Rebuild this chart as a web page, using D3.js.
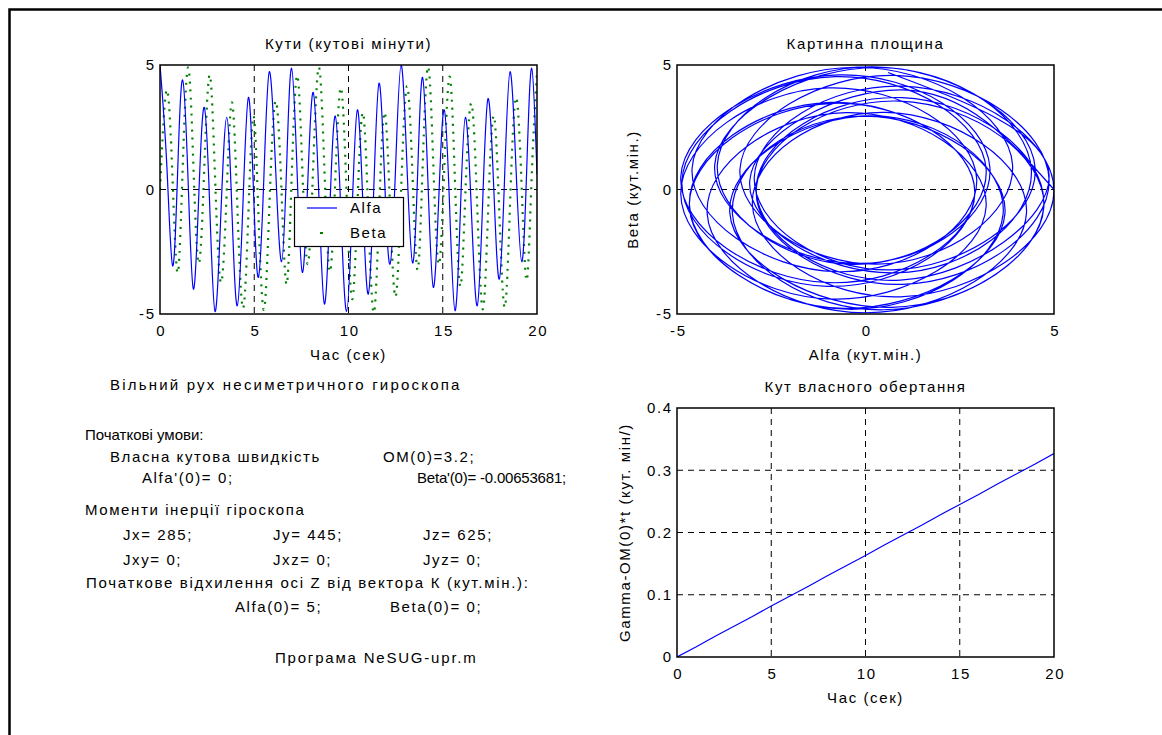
<!DOCTYPE html>
<meta charset="utf-8">
<html>

<head>
  <title>Вільний рух несиметричного гироскопа</title>
  <script src="https://d3js.org/d3.v7.min.js"></script>
  <style>
    body { margin: 0; background: #fff; }
    text { font-family: "Liberation Sans", Arial, sans-serif; font-size: 15px; fill: #000; letter-spacing: 1.6px; }
  </style>
</head>

<body>
  <div id="fig"></div>
</body>
<script>

  // time samples (sec): alternating extrema of Alfa and Beta
  var tSec = [0, 0.36, 0.67, 0.94, 1.2, 1.49, 1.77, 2.06, 2.35, 2.64, 2.92, 3.23, 3.54, 3.82, 4.1, 4.4, 4.69, 4.96,
    5.22, 5.51, 5.8, 6.13, 6.45, 6.72, 6.98, 7.27, 7.55, 7.84, 8.13, 8.43, 8.72, 9.01, 9.3, 9.6, 9.9, 10.19,
    10.47, 10.76, 11.05, 11.34, 11.62, 11.91, 12.2, 12.5, 12.79, 13.1, 13.4, 13.67, 13.93, 14.22, 14.5, 14.79,
    15.08, 15.37, 15.65, 15.93, 16.2, 16.52, 16.83, 17.12, 17.4, 17.7, 18.0, 18.29, 18.57, 18.88, 19.19, 19.46,
    19.72, 20];
  var alfa = [5.0, 1.0, -3.07, 0.8, 4.4, 0.37, -4.0, -0.19, 3.3, -0.7, -4.9, -0.98, 2.9, -0.93, -4.67, -0.58, 3.7, -0.05,
    -3.53, 0.48, 4.73, 0.9, -2.9, 0.99, 4.87, 0.78, -3.33, 0.31, 3.9, -0.28, -4.6, -0.76, 2.95, -0.99, -4.9, -0.9,
    3.2, -0.51, -4.2, 0.01, 4.27, 0.53, -3.0, 0.93, 5.0, 0.98, -2.95, 0.69, 4.5, 0.19, -3.93, -0.34,
    3.2, -0.81, -4.87, -1.0, 2.9, -0.87, -4.67, -0.46, 3.65, 0.17, -3.6, 0.68, 4.73, 0.97, -2.9, 0.93,
    4.87, 0.6];
  var beta = [0, 4.0, 0.36, -3.35, 0.78, 4.9, 0.99, -2.97, 0.89, 4.6, 0.5, -3.74, -0.1, 3.5, -0.61, -4.77, -0.95, 2.95,
    -0.98, -4.83, -0.71, 3.55, -0.13, -3.81, 0.38, 4.58, 0.82, -3.0, 1.0, 4.91, 0.85, -3.3, 0.41, 4.08, -0.17, -4.4,
    -0.68, 3.09, -0.97, -4.95, -0.95, 3.1, -0.63, -4.31, -0.06, 4.15, 0.5, -3.23, 0.86, 4.93, 0.99, -3.01,
    0.8, 4.53, 0.3, -3.89, -0.17, 3.46, -0.72, -4.81, -0.99, 2.96, -0.93, -4.73, -0.58, 3.69, 0.04, -3.64,
    0.56, 4.7];

  // own rotation angle Gamma-OM(0)*t
  var tGamma = [0, 1, 2, 3, 4, 5, 6, 7, 8, 9, 10, 11, 12, 13, 14, 15, 16, 17, 18, 19, 20];
  var gamma = [0, 0.016, 0.033, 0.049, 0.065, 0.082, 0.098, 0.114, 0.131, 0.147, 0.163, 0.18, 0.196, 0.212,
    0.229, 0.245, 0.261, 0.278, 0.294, 0.31, 0.327];

  var timeTicks = [0, 5, 10, 15, 20];
  var angleTicks = [-5, 0, 5];
  var gammaTicks = [0, 0.1, 0.2, 0.3, 0.4];

  var notes = [
    "Вільний рух несиметричного гироскопа",
    "Початкові умови:",
    "Власна кутова швидкість", "OM(0)=3.2;",
    "Alfa'(0)= 0;", "Beta'(0)= -0.00653681;",
    "Моменти інерції гіроскопа",
    "Jx= 285;", "Jy= 445;", "Jz= 625;",
    "Jxy= 0;", "Jxz= 0;", "Jyz= 0;",
    "Початкове відхилення осі Z від вектора К (кут.мін.):",
    "Alfa(0)= 5;", "Beta(0)= 0;",
    "Програма NeSUG-upr.m"
  ];
  // where each note line goes: x, baseline y, letter spacing
  var notePos = [
    [110, 390, 2.2], [85, 440, 0], [110, 462, 1.6], [383, 462, 1.6], [142, 483, 1.6], [417, 483, -0.2], [85, 515, 1.6],
    [123, 540, 1.6], [273, 540, 1.6], [423, 540, 1.6], [123, 565, 1.6], [273, 565, 1.6], [423, 565, 1.6],
    [86, 588, 1.7], [235, 612, 1.6], [390, 612, 1.6], [275, 663, 1.8]
  ];

  var W = 1162, H = 735;
  var svg = d3.select("#fig").append("svg").attr("width", W).attr("height", H);
  svg.append("rect").attr("width", W).attr("height", H).attr("fill", "#fff");
  svg.append("rect").attr("x", 9.5).attr("y", 9.5).attr("width", W + 20).attr("height", H + 20)
    .attr("fill", "none").attr("stroke", "#000").attr("stroke-width", 2.5);

  var dash = "6,5";
  var clipN = 0;

  function panel(b, xd, yd, xt, yt, xg, yg, title, xlab, ylab) {
    var x = d3.scaleLinear().domain(xd).range([b.l, b.r]);
    var y = d3.scaleLinear().domain(yd).range([b.b, b.t]);
    var g = svg.append("g");

    g.selectAll(null).data(xg).enter().append("line")
      .attr("x1", d => x(d)).attr("x2", d => x(d)).attr("y1", b.t).attr("y2", b.b)
      .attr("stroke", "#000").attr("stroke-dasharray", dash);
    g.selectAll(null).data(yg).enter().append("line")
      .attr("y1", d => y(d)).attr("y2", d => y(d)).attr("x1", b.l).attr("x2", b.r)
      .attr("stroke", "#000").attr("stroke-dasharray", dash);

    var ax = g.append("g").attr("transform", "translate(0," + b.b + ")")
      .call(d3.axisBottom(x).tickValues(xt).tickSize(0).tickPadding(11).tickFormat(d => String(d)));
    var ay = g.append("g").attr("transform", "translate(" + b.l + ",0)")
      .call(d3.axisLeft(y).tickValues(yt).tickSize(0).tickPadding(6).tickFormat(d => String(d)));
    ax.select(".domain").remove();
    ay.select(".domain").remove();
    // centre x labels despite the letter spacing
    ax.selectAll("text").attr("dx", "0.8px");
    ay.selectAll("text").attr("dx", "1.6px");

    g.append("text").attr("x", (b.l + b.r) / 2).attr("y", b.t - 16).attr("text-anchor", "middle").text(title);
    g.append("text").attr("x", (b.l + b.r) / 2).attr("y", b.b + 46).attr("text-anchor", "middle").text(xlab);
    if (ylab) {
      g.append("text").attr("transform", "translate(" + ylab[0] + "," + ((b.t + b.b) / 2) + ") rotate(-90)")
        .attr("text-anchor", "middle").attr("dy", "0.35em").text(ylab[1]);
    }

    var id = "clip" + (clipN++);
    svg.append("clipPath").attr("id", id).append("rect")
      .attr("x", b.l).attr("y", b.t).attr("width", b.r - b.l).attr("height", b.b - b.t);
    var plot = svg.append("g").attr("clip-path", "url(#" + id + ")");
    return { x: x, y: y, plot: plot, box: b };
  }

  function frame(p) {
    var b = p.box;
    svg.append("rect").attr("x", b.l).attr("y", b.t).attr("width", b.r - b.l).attr("height", b.b - b.t)
      .attr("fill", "none").attr("stroke", "#000").attr("stroke-width", 1.5);
  }

  // ---- Кути (кутові мінути)
  var p1 = panel({ l: 160, r: 537, t: 65, b: 314 }, [0, 20], [-5, 5], timeTicks, angleTicks, [5, 10, 15], [0],
    "Кути (кутові мінути)", "Час (сек)", null);
  p1.plot.append("path")
    .attr("d", d3.line().x((d, i) => p1.x(tSec[i])).y(d => p1.y(d)).curve(d3.curveNatural)(beta))
    .attr("fill", "none").attr("stroke", "#008000").attr("stroke-width", 2.2).attr("stroke-dasharray", "2,6");
  p1.plot.append("path")
    .attr("d", d3.line().x((d, i) => p1.x(tSec[i])).y(d => p1.y(d)).curve(d3.curveNatural)(alfa))
    .attr("fill", "none").attr("stroke", "#0000ff").attr("stroke-width", 1.2);
  frame(p1);

  // legend
  var lg = svg.append("g");
  lg.append("rect").attr("x", 294.5).attr("y", 197.5).attr("width", 109).attr("height", 49)
    .attr("fill", "#fff").attr("stroke", "#000").attr("stroke-width", 1.2);
  lg.append("line").attr("x1", 307).attr("x2", 337).attr("y1", 208).attr("y2", 208)
    .attr("stroke", "#0000ff").attr("stroke-width", 1.2);
  lg.append("rect").attr("x", 320).attr("y", 232).attr("width", 3).attr("height", 2).attr("fill", "#008000");
  lg.append("text").attr("x", 350).attr("y", 213).text("Alfa");
  lg.append("text").attr("x", 350).attr("y", 238).text("Beta");

  // ---- Картинна площина
  var p2 = panel({ l: 677, r: 1054, t: 65, b: 314 }, [-5, 5], [-5, 5], angleTicks, angleTicks, [0], [0],
    "Картинна площина", "Alfa (кут.мін.)", [633, "Beta (кут.мін.)"]);
  p2.plot.append("path")
    .attr("d", d3.line().x(d => p2.x(d[0])).y(d => p2.y(d[1])).curve(d3.curveNatural)(d3.zip(alfa, beta)))
    .attr("fill", "none").attr("stroke", "#0000ff").attr("stroke-width", 1.2);
  frame(p2);

  // ---- Кут власного обертання
  var p3 = panel({ l: 677, r: 1054, t: 408, b: 657 }, [0, 20], [0, 0.4], timeTicks, gammaTicks, [5, 10, 15], [0.1, 0.2, 0.3],
    "Кут власного обертання", "Час (сек)", [625, "Gamma-OM(0)*t (кут. мін/)"]);
  p3.plot.append("path")
    .attr("d", d3.line().x((d, i) => p3.x(tGamma[i])).y(d => p3.y(d))(gamma))
    .attr("fill", "none").attr("stroke", "#0000ff").attr("stroke-width", 1.2);
  frame(p3);

  // notes
  svg.append("g").selectAll("text").data(notes).enter().append("text")
    .attr("x", (d, i) => notePos[i][0]).attr("y", (d, i) => notePos[i][1])
    .style("letter-spacing", (d, i) => notePos[i][2] + "px")
    .text(d => d);

</script>

</html>
